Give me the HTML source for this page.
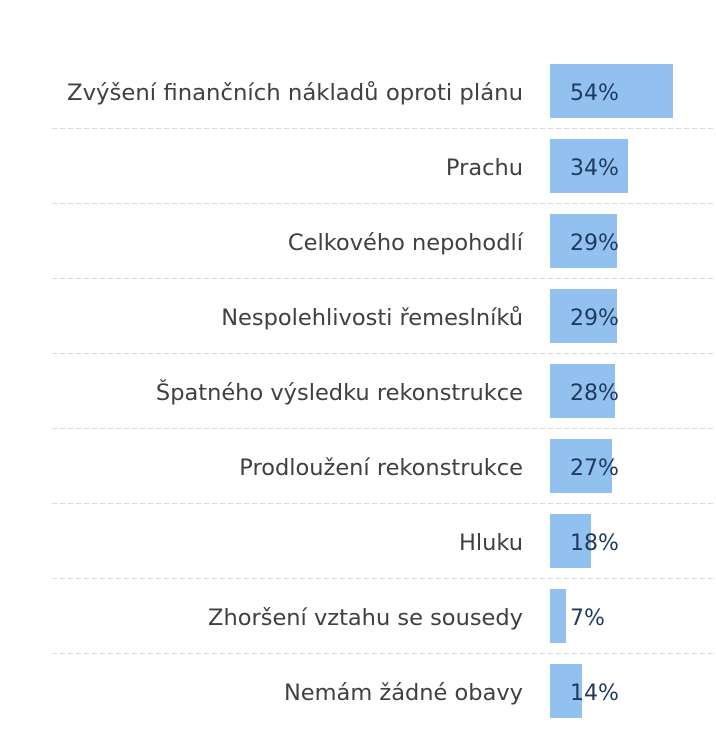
<!DOCTYPE html>
<html><head><meta charset="utf-8"><style>html,body{margin:0;padding:0;background:#fff;width:716px;height:756px;overflow:hidden}</style></head>
<body>
<svg width="716" height="756" xmlns="http://www.w3.org/2000/svg" font-family="DejaVu Sans, Liberation Sans, sans-serif" font-size="22.5">
<g stroke="#d9d9d9" stroke-width="1" stroke-dasharray="5,3">
<line x1="52" x2="716" y1="128.5" y2="128.5"/>
<line x1="52" x2="716" y1="203.5" y2="203.5"/>
<line x1="52" x2="716" y1="278.5" y2="278.5"/>
<line x1="52" x2="716" y1="353.5" y2="353.5"/>
<line x1="52" x2="716" y1="428.5" y2="428.5"/>
<line x1="52" x2="716" y1="503.5" y2="503.5"/>
<line x1="52" x2="716" y1="578.5" y2="578.5"/>
<line x1="52" x2="716" y1="653.5" y2="653.5"/>
</g>
<g fill="#92c0ef">
<rect x="550" y="64" width="123" height="54"/>
<rect x="550" y="139" width="78" height="54"/>
<rect x="550" y="214" width="67" height="54"/>
<rect x="550" y="289" width="67" height="54"/>
<rect x="550" y="364" width="65" height="54"/>
<rect x="550" y="439" width="62" height="54"/>
<rect x="550" y="514" width="41" height="54"/>
<rect x="550" y="589" width="16" height="54"/>
<rect x="550" y="664" width="32" height="54"/>
</g>
<g fill="#404040" text-anchor="end">
<text x="523" y="100" textLength="456" lengthAdjust="spacingAndGlyphs">Zvýšení finančních nákladů oproti plánu</text>
<text x="523" y="175">Prachu</text>
<text x="523" y="250">Celkového nepohodlí</text>
<text x="523" y="325">Nespolehlivosti řemeslníků</text>
<text x="523" y="400">Špatného výsledku rekonstrukce</text>
<text x="523" y="475">Prodloužení rekonstrukce</text>
<text x="523" y="550">Hluku</text>
<text x="523" y="625">Zhoršení vztahu se sousedy</text>
<text x="523" y="700">Nemám žádné obavy</text>
</g>
<g fill="#1f3a5f" font-size="22">
<text x="570" y="100">54%</text>
<text x="570" y="175">34%</text>
<text x="570" y="250">29%</text>
<text x="570" y="325">29%</text>
<text x="570" y="400">28%</text>
<text x="570" y="475">27%</text>
<text x="570" y="550">18%</text>
<text x="570" y="625">7%</text>
<text x="570" y="700">14%</text>
</g>
</svg>
</body></html>
